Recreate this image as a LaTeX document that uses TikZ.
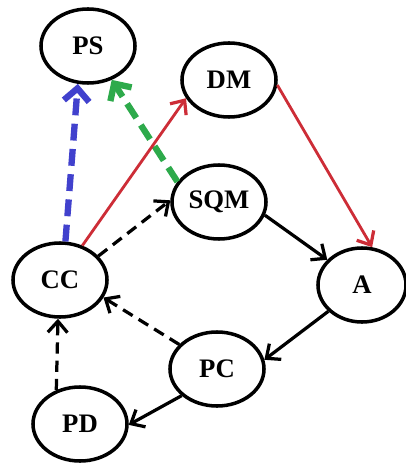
\documentclass[tikz,border=0pt]{standalone}
\usepackage{amsmath,amsfonts,amsthm}
\usepackage{fontspec}
\setmainfont{Liberation Serif}
\usetikzlibrary{shapes.geometric,arrows.meta}
\definecolor{redarc}{RGB}{205,45,55}
\definecolor{bluearc}{RGB}{65,65,205}
\definecolor{greenarc}{RGB}{45,170,75}
\begin{document}
\begin{tikzpicture}[x=0.025cm,y=-0.025cm]
\tikzstyle{every node}+=[inner sep=0pt]
\tikzstyle{state}=[ellipse,draw=black,line width=2.5pt,minimum width=2.35cm,minimum height=1.85cm,font=\fontsize{19}{22}\selectfont\bfseries]
\tikzstyle{arc}=[line width=2.3pt,-{Straight Barb[length=8pt,width=14pt,line width=2.3pt]}]
\tikzstyle{fat}=[line width=4.5pt,dash pattern=on 12pt off 6pt,-{Straight Barb[length=9pt,width=18pt,line width=4.5pt]}]
\useasboundingbox (0,0) rectangle (406,465);
\node [state] (PS) at (88,46) {PS};
\node [state] (DM) at (229,80) {DM};
\node [state] (SQM) at (219,202) {SQM};
\node [state] (CC) at (60,280) {CC};
\node [state,minimum width=2.2cm] (A) at (362,285) {A};
\node [state] (PC) at (217,369) {PC};
\node [state] (PD) at (80,424) {PD};
\draw [fat,bluearc] (CC.82) -- (PS.255);
\draw [fat,greenarc] (SQM.154) -- (PS.305);
\draw [arc,redarc,line width=2pt] (CC.57) -- (DM.203);
\draw [arc,redarc,line width=2pt] (DM.-6) -- (A.75);
\draw [arc,dash pattern=on 8pt off 5pt] (CC.32) -- (SQM.178);
\draw [arc] (SQM.-16) -- (A.144);
\draw [arc] (A.218) -- (PC.11);
\draw [arc,dash pattern=on 8pt off 5pt] (PC.147) -- (CC.-22);
\draw [arc] (PC.217) -- (PD.-1);
\draw [arc,dash pattern=on 8pt off 5pt] (PD.125) -- (CC.267);
\end{tikzpicture}
\end{document}
